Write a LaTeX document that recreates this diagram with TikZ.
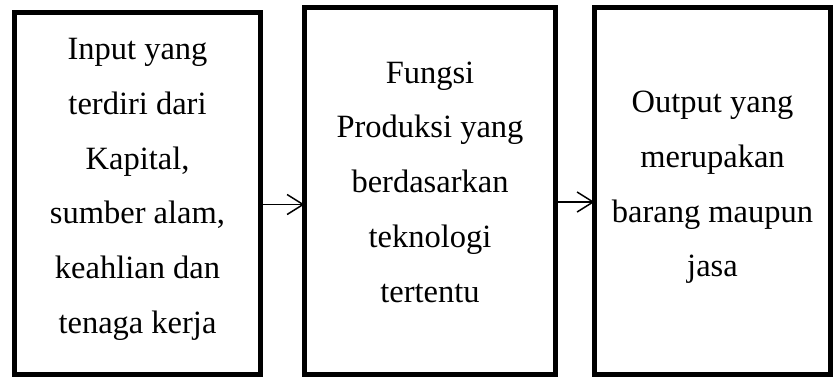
\documentclass[tikz,border=0pt]{standalone}
\usepackage{fontspec}
\setmainfont{Liberation Serif}
\usetikzlibrary{arrows.meta}
\begin{document}
\begin{tikzpicture}[x=1pt,y=-1pt,
  panel/.style={draw=black, line width=5pt, inner sep=0pt, outer sep=0pt},
  boxtext/.style={font=\fontsize{32.5}{54.7}\selectfont, align=center, inner sep=0pt},
  flow/.style={line width=1.5pt, -{Straight Barb[length=16pt,width=20pt]}}]
  \useasboundingbox (0,0) rectangle (833,378);

  % the three stages
  \node[panel, minimum width=246pt, minimum height=362pt] (b1) at (137.5,193.5) {};
  \node[panel, minimum width=251pt, minimum height=367.5pt] (b2) at (430,190.75) {};
  \node[panel, minimum width=236pt, minimum height=367.5pt] (b3) at (712.5,190.75) {};

  % their texts
  \node[boxtext] (t1) at (137.5,189.3) {Input yang\\terdiri dari\\Kapital,\\sumber alam,\\keahlian dan\\tenaga kerja};
  \node[boxtext] (t2) at (430,182.0) {Fungsi\\Produksi yang\\berdasarkan\\teknologi\\tertentu};
  \node[boxtext] (t3) at (712.5,187.6) {Output yang\\merupakan\\barang maupun\\jasa};

  % connectors between the stages
  \draw[flow] ([yshift=-11pt]b1.east) -- ([yshift=-11pt]b1.east -| b2.west);
  \draw[flow] ([yshift=-11.25pt]b2.east) -- ([yshift=-11.25pt]b2.east -| b3.west);
\end{tikzpicture}
\end{document}
